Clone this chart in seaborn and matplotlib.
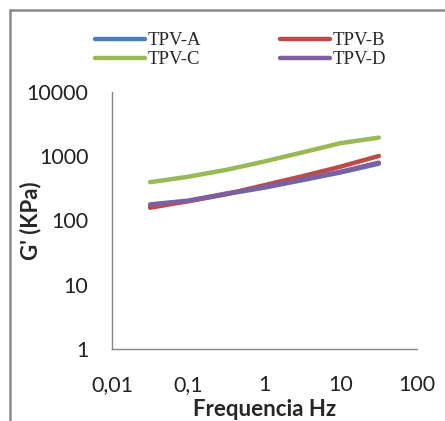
import numpy as np
import pandas as pd
import matplotlib
matplotlib.use("Agg")
import matplotlib.pyplot as plt
import seaborn as sns
from matplotlib.lines import Line2D

freq = [0.0316, 0.1, 0.316, 1.0, 3.16, 10.0, 31.6]
tpv_a = [172, 200, 258, 325, 425, 560, 765]
tpv_b = [158, 200, 257, 355, 490, 690, 1010]
tpv_c = [395, 480, 615, 830, 1150, 1600, 1950]
tpv_d = [178, 204, 263, 331, 437, 575, 795]
series_names = ["TPV-A", "TPV-B", "TPV-C", "TPV-D"]
colors = ["#4a7ebb", "#be4b48", "#98b954", "#7d60a0"]
x_ticks = [0.01, 0.1, 1, 10, 100]
x_labels = ["0,01", "0,1", "1", "10", "100"]
y_ticks = [1, 10, 100, 1000, 10000]
y_labels = ["1", "10", "100", "1000", "10000"]

df = pd.DataFrame({
    "freq": freq * 4,
    "G": tpv_a + tpv_b + tpv_c + tpv_d,
    "serie": sum([[n] * len(freq) for n in series_names], []),
})

sns.set_style("white")
plt.rcParams["font.family"] = ["Lato", "DejaVu Sans"]

fig = plt.figure(figsize=(4.45, 4.21), dpi=100)
ax = fig.add_axes([112 / 445, 1 - 349 / 421, 305 / 445, 257 / 421])

sns.lineplot(data=df, x="freq", y="G", hue="serie", hue_order=series_names,
             palette=dict(zip(series_names, colors)), linewidth=3.2, ax=ax,
             legend=False, estimator=None, sort=True)
ax.set_xscale("log")
ax.set_yscale("log")
ax.set_xlim(0.01, 100)
ax.set_ylim(1, 10000)
ax.set_xticks(x_ticks)
ax.set_xticklabels(x_labels)
ax.set_yticks(y_ticks)
ax.set_yticklabels(y_labels)
ax.minorticks_off()
ax.tick_params(axis="both", direction="in", length=6, width=1, color="#868686",
               labelsize=15.5, labelcolor="#222222")
ax.tick_params(axis="y", pad=17)
ax.tick_params(axis="x", pad=19)
for s in ["top", "right"]:
    ax.spines[s].set_visible(False)
for s in ["left", "bottom"]:
    ax.spines[s].set_color("#868686")
    ax.spines[s].set_linewidth(1.0)

ax.set_xlabel("Frequencia Hz", fontsize=16, fontweight="bold")
ax.xaxis.set_label_coords(0.5, -(409 - 349) / 257, transform=ax.transAxes)
ax.xaxis.label.set_va("center")
ax.set_ylabel("G' (KPa)", fontsize=16, fontweight="bold")
ax.yaxis.set_label_coords(-(112 - 31) / 305, 0.5, transform=ax.transAxes)
ax.yaxis.label.set_va("center")

order = [0, 2, 1, 3]
handles = [Line2D([0], [0], color=colors[i], lw=3.2) for i in order]
labels = [series_names[i] for i in order]
fig.legend(handles, labels, loc="upper left", ncol=2,
           bbox_to_anchor=(95 / 445, 1 - 32 / 421), frameon=False,
           prop={"family": "Liberation Serif", "size": 13.5},
           handlelength=2.67, handletextpad=0.15, columnspacing=4.2,
           labelspacing=0.1, borderaxespad=0, borderpad=0)

fig.add_artist(Line2D([9.5 / 445, 9.5 / 445], [0, 1 - 9.5 / 421],
                      transform=fig.transFigure, color="#8a8a8a", lw=1.8))
fig.add_artist(Line2D([9.5 / 445, 1], [1 - 9.5 / 421, 1 - 9.5 / 421],
                      transform=fig.transFigure, color="#8a8a8a", lw=1.8))

fig.savefig("out.png", dpi=100)
